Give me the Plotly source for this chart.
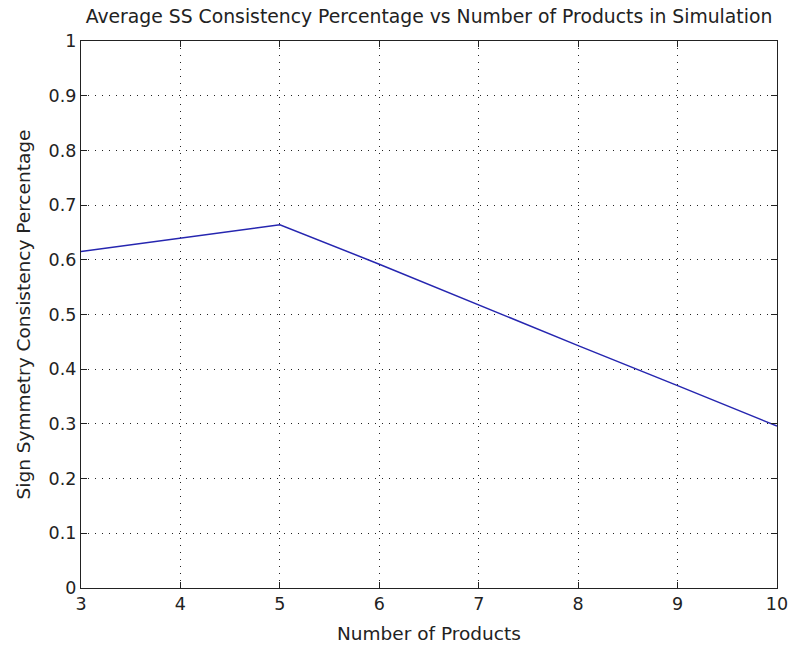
import plotly.graph_objects as go

num_products = [3, 4, 5, 6, 7, 8, 9, 10]
ss_consistency = [0.615, 0.640, 0.664, 0.592, 0.517, 0.443, 0.370, 0.296]

x_ticks = [3, 4, 5, 6, 7, 8, 9, 10]
y_ticks = [0, 0.1, 0.2, 0.3, 0.4, 0.5, 0.6, 0.7, 0.8, 0.9, 1]
y_tick_text = ["0", "0.1", "0.2", "0.3", "0.4", "0.5", "0.6", "0.7", "0.8", "0.9", "1"]

FONT = "DejaVu Sans"
INK = "#222"

fig = go.Figure()
fig.add_trace(go.Scatter(
    x=num_products, y=ss_consistency, mode="lines",
    line=dict(color="#2626b0", width=1.5), showlegend=False,
))

axis_common = dict(
    showline=True, linecolor=INK, linewidth=1.3, mirror="allticks",
    ticks="inside", ticklen=6, tickcolor=INK, tickwidth=1.3,
    showgrid=True, gridcolor="#222", griddash="1px,6px", gridwidth=1.3,
    zeroline=False, automargin=False, ticklabeloverflow="allow",
    tickfont=dict(family=FONT, size=17.5, color=INK),
)

fig.update_layout(
    width=788, height=646,
    margin=dict(l=81, r=11, t=41, b=58),
    paper_bgcolor="white", plot_bgcolor="white",
    title=dict(text="Average SS Consistency Percentage vs Number of Products in Simulation",
               x=0.5, xref="paper", xanchor="center", y=1 - 16 / 646, yanchor="middle",
               font=dict(family=FONT, size=18.8, color=INK)),
    xaxis=dict(range=[3, 10], tickvals=x_ticks, **axis_common),
    yaxis=dict(range=[0, 1], tickvals=y_ticks, ticktext=y_tick_text, **axis_common),
)

fig.add_annotation(text="Number of Products", xref="paper", yref="paper",
                   x=0.5, y=-(633 - 588) / (588 - 41), xanchor="center", yanchor="middle",
                   showarrow=False, font=dict(family=FONT, size=18.5, color=INK))
fig.add_annotation(text="Sign Symmetry Consistency Percentage", xref="paper", yref="paper",
                   x=-(81 - 23) / (777 - 81), y=0.5, xanchor="center", yanchor="middle",
                   textangle=-90, showarrow=False,
                   font=dict(family=FONT, size=18.5, color=INK))

fig.write_html("out.html")
